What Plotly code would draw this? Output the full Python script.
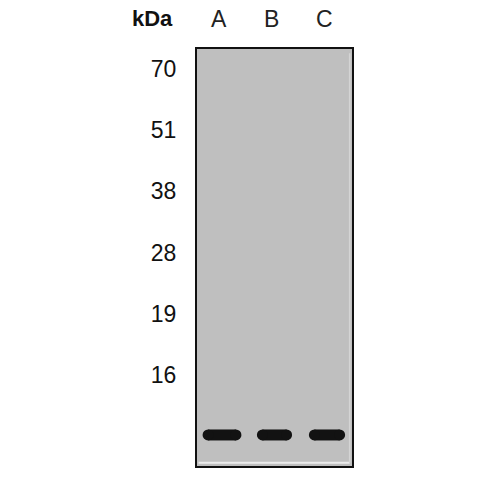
import plotly.graph_objects as go

# ---- data ----
lanes = ["A", "B", "C"]
marker_kda = ["70", "51", "38", "28", "19", "16"]
marker_rows = [0, 1, 2, 3, 4, 5]          # ladder positions (marker steps)
band_row = [5.98, 5.98, 5.98]             # band position per lane (marker steps)
band_width = [0.74, 0.67, 0.69]           # band length per lane (lane units)

lane_x = [1, 2, 3]
band_thick = 11
band_color = "#121212"

fig = go.Figure()
for lx, row, w in zip(lane_x, band_row, band_width):
    half = (w - band_thick / 52.5) / 2
    fig.add_trace(go.Scatter(
        x=[lx - half, lx + half], y=[row, row],
        mode="lines+markers",
        line=dict(color=band_color, width=band_thick),
        marker=dict(color=band_color, size=band_thick, line=dict(width=0)),
        hoverinfo="skip", showlegend=False))

for lx, name in zip(lane_x, lanes):
    fig.add_annotation(x=lx - 0.05, y=1.072, xref="x", yref="paper", text=name,
                       showarrow=False, xanchor="center", yanchor="middle",
                       font=dict(family="Liberation Sans", size=23, color="#222"))

fig.add_annotation(x=-0.29, y=1.072, xref="paper", yref="paper", text="<b>kDa</b>",
                   showarrow=False, xanchor="center", yanchor="middle",
                   font=dict(family="Liberation Sans", size=22, color="#111"))

# faint light inner edge along bottom and right of the membrane
fig.add_shape(type="line", xref="paper", yref="paper", x0=0.01, x1=0.985,
              y0=0.008, y1=0.008, line=dict(color="#ececec", width=2))
fig.add_shape(type="line", xref="paper", yref="paper", x0=0.985, x1=0.985,
              y0=0.008, y1=0.99, line=dict(color="#d4d4d4", width=1.5))

fig.update_xaxes(range=[0.524, 3.476], showgrid=False, zeroline=False,
                 showticklabels=False, ticks="", showline=True, mirror=True,
                 linecolor="#111", linewidth=2)
fig.update_yaxes(range=[6.487, -0.327], showgrid=False, zeroline=False,
                 tickvals=marker_rows, ticktext=marker_kda, ticks="",
                 ticklabelstandoff=14,
                 tickfont=dict(family="Liberation Sans", size=23, color="#111"),
                 showline=True, mirror=True, linecolor="#111", linewidth=2)

fig.update_layout(width=500, height=500,
                  margin=dict(l=197, r=148, t=49, b=34),
                  plot_bgcolor="#bfbfbf", paper_bgcolor="white")

fig.write_html("out.html",
               config={"displayModeBar": False, "staticPlot": True},
               post_script="document.body.style.margin='0';document.body.style.overflow='hidden';")
